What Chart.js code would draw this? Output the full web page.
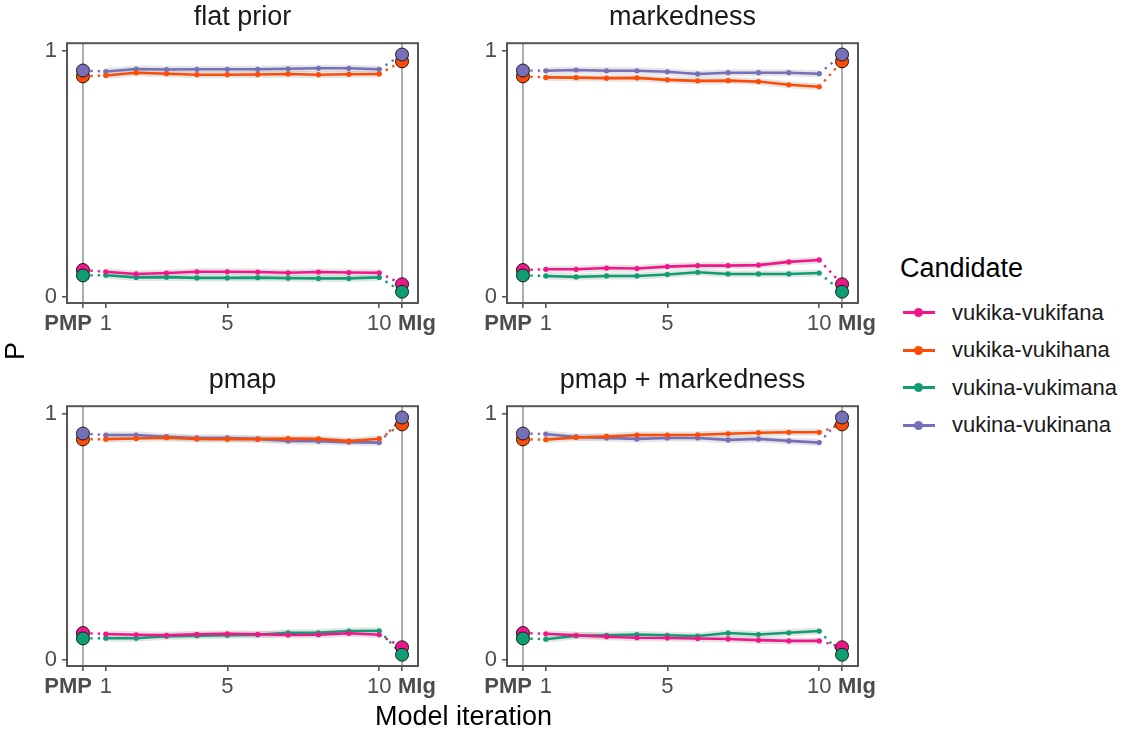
<!DOCTYPE html>
<html>
<head>
<meta charset="utf-8">
<script src="https://cdn.jsdelivr.net/npm/chart.js@4.4.1/dist/chart.umd.min.js"></script>
<style>
  body { margin: 0; background: #fff; font-family: "Liberation Sans", Arial, sans-serif; }
  #page { position: relative; width: 1121px; height: 736px; overflow: hidden; background: #fff; }
  #page canvas { position: absolute; }
  .title { position: absolute; width: 351px; text-align: center; font-size: 27px; line-height: 30px; color: #1a1a1a; }
  .axis-title { position: absolute; font-size: 27px; line-height: 30px; color: #000; }
  .leg-title { position: absolute; left: 900px; top: 253px; font-size: 27px; line-height: 30px; color: #000; }
  .leg-item { position: absolute; left: 903px; height: 30px; }
  .leg-line { position: absolute; left: 0; top: 13.5px; width: 32px; height: 3px; }
  .leg-dot { position: absolute; left: 11px; top: 10.5px; width: 9px; height: 9px; border-radius: 50%; }
  .leg-text { position: absolute; left: 49px; top: 0; font-size: 22px; line-height: 30px; white-space: nowrap; color: #1a1a1a; }
</style>
</head>
<body>
<div id="page"></div>
<script>
// DATA
const candidates = ['vukika-vukifana', 'vukika-vukihana', 'vukina-vukimana', 'vukina-vukinana'];
const iterations = [1, 2, 3, 4, 5, 6, 7, 8, 9, 10];
const xTickValues = [0.25, 1, 5, 10, 10.75];
const xTickLabels = ['PMP', '1', '5', '10', 'MIg'];
const yTickValues = [0, 1];

// PMP and MIg reference values, one per candidate
const pmpValues = [0.109, 0.896, 0.087, 0.920];
const migValues = [0.051, 0.957, 0.021, 0.985];

// model iterations 1..10, one row per candidate
const flatPrior = [
    [0.102, 0.093, 0.097, 0.102, 0.102, 0.101, 0.098, 0.101, 0.099, 0.098],
    [0.900, 0.911, 0.907, 0.903, 0.903, 0.904, 0.906, 0.903, 0.905, 0.906],
    [0.088, 0.079, 0.080, 0.077, 0.077, 0.078, 0.076, 0.075, 0.075, 0.079],
    [0.916, 0.926, 0.924, 0.925, 0.925, 0.925, 0.927, 0.929, 0.929, 0.925]
];
const markedness = [
    [0.112, 0.112, 0.117, 0.115, 0.123, 0.127, 0.127, 0.129, 0.142, 0.150],
    [0.892, 0.891, 0.889, 0.890, 0.882, 0.878, 0.879, 0.875, 0.862, 0.854],
    [0.085, 0.081, 0.085, 0.085, 0.091, 0.100, 0.093, 0.093, 0.093, 0.097],
    [0.919, 0.922, 0.919, 0.919, 0.915, 0.906, 0.911, 0.911, 0.911, 0.907]
];
const pmap = [
    [0.105, 0.102, 0.100, 0.104, 0.106, 0.104, 0.101, 0.102, 0.108, 0.102],
    [0.897, 0.900, 0.903, 0.898, 0.897, 0.897, 0.899, 0.898, 0.889, 0.899],
    [0.088, 0.088, 0.096, 0.098, 0.100, 0.102, 0.110, 0.110, 0.117, 0.118],
    [0.914, 0.914, 0.907, 0.902, 0.902, 0.898, 0.890, 0.889, 0.885, 0.883]
];
const pmapMarkedness = [
    [0.106, 0.100, 0.094, 0.090, 0.089, 0.087, 0.085, 0.080, 0.077, 0.077],
    [0.895, 0.904, 0.908, 0.914, 0.914, 0.915, 0.919, 0.923, 0.925, 0.925],
    [0.084, 0.098, 0.100, 0.103, 0.100, 0.097, 0.109, 0.103, 0.110, 0.117],
    [0.918, 0.906, 0.902, 0.898, 0.902, 0.902, 0.894, 0.898, 0.890, 0.883]
];
const panelTitles = ['flat prior', 'markedness', 'pmap', 'pmap + markedness'];
const panelData = [flatPrior, markedness, pmap, pmapMarkedness];

// STYLE / LAYOUT
const colors = ['#f2168b', '#fc4c06', '#0f9e74', '#7670b8'];
const frames = [
    { left: 67, top: 35 }, { left: 507, top: 35 },
    { left: 67, top: 398 }, { left: 507, top: 398 }
];
const FW = 351, FH = 268;
const PAD_L = 66, PAD_T = 10, PAD_R = 40, PAD_B = 42;
const FONT = '"Liberation Sans", Arial, sans-serif';

const page = document.getElementById('page');

// frame, reference lines, and x labels (PMP / MIg nudged outward like ggplot)
const panelDecor = {
    id: 'panelDecor',
    beforeDatasetsDraw(chart) {
        const { ctx, chartArea, scales } = chart;
        ctx.save();
        ctx.strokeStyle = '#9a9a9a';
        ctx.lineWidth = 1.6;
        [xTickValues[0], xTickValues[xTickValues.length - 1]].forEach(v => {
            const px = scales.x.getPixelForValue(v);
            ctx.beginPath();
            ctx.moveTo(px, chartArea.top);
            ctx.lineTo(px, chartArea.bottom);
            ctx.stroke();
        });
        ctx.restore();
    },
    afterDraw(chart) {
        const { ctx, chartArea, scales } = chart;
        ctx.save();
        ctx.strokeStyle = '#555555';
        ctx.lineWidth = 2;
        ctx.strokeRect(chartArea.left, chartArea.top, chartArea.right - chartArea.left, chartArea.bottom - chartArea.top);

        ctx.fillStyle = '#4d4d4d';
        ctx.textBaseline = 'middle';
        const y = chartArea.bottom + 21;
        xTickValues.forEach((v, i) => {
            const px = scales.x.getPixelForValue(v);
            const label = xTickLabels[i];
            if (i === 0) {
                ctx.font = 'bold 22px ' + FONT;
                ctx.textAlign = 'right';
                ctx.fillText(label, px + 9, y);
            } else if (i === xTickValues.length - 1) {
                ctx.font = 'bold 22px ' + FONT;
                ctx.textAlign = 'left';
                ctx.fillText(label, px - 4, y);
            } else {
                ctx.font = '22px ' + FONT;
                ctx.textAlign = 'center';
                ctx.fillText(label, px, y);
            }
        });
        ctx.restore();
    }
};

function buildDatasets(rows) {
    const halos = [], lines = [], links = [], ends = [];
    rows.forEach((vals, c) => {
        const pts = iterations.map((it, k) => ({ x: it, y: vals[k] }));
        halos.push({
            data: pts,
            borderColor: 'rgba(150,150,150,0.25)',
            borderWidth: 7,
            pointRadius: 0,
            order: 5
        });
        lines.push({
            data: pts,
            borderColor: colors[c],
            borderWidth: 2.6,
            pointRadius: 2.6,
            pointBackgroundColor: colors[c],
            pointBorderWidth: 0,
            order: 2
        });
        links.push({
            data: [
                { x: xTickValues[0], y: pmpValues[c] },
                { x: iterations[0], y: vals[0] },
                { x: 5.5, y: null },
                { x: iterations[iterations.length - 1], y: vals[vals.length - 1] },
                { x: xTickValues[xTickValues.length - 1], y: migValues[c] }
            ],
            borderColor: colors[c],
            borderWidth: 2.4,
            borderDash: [2.4, 5],
            pointRadius: 0,
            spanGaps: false,
            order: 3
        });
        ends.push({
            data: [
                { x: xTickValues[0], y: pmpValues[c] },
                { x: xTickValues[xTickValues.length - 1], y: migValues[c] }
            ],
            showLine: false,
            pointRadius: 6.5,
            pointBackgroundColor: colors[c],
            pointBorderColor: '#1a1a1a',
            pointBorderWidth: 1,
            order: 1
        });
    });
    return [...ends.reverse(), ...lines, ...links, ...halos];
}

panelData.forEach((rows, i) => {
    const f = frames[i];
    const canvas = document.createElement('canvas');
    canvas.width = PAD_L + FW + PAD_R;
    canvas.height = PAD_T + FH + PAD_B;
    canvas.style.left = (f.left - PAD_L) + 'px';
    canvas.style.top = (f.top - PAD_T) + 'px';
    page.appendChild(canvas);

    const title = document.createElement('div');
    title.className = 'title';
    title.textContent = panelTitles[i];
    title.style.left = f.left + 'px';
    title.style.top = (f.top - 34) + 'px';
    page.appendChild(title);

    new Chart(canvas, {
        type: 'line',
        data: { datasets: buildDatasets(rows) },
        options: {
            responsive: false,
            animation: false,
            devicePixelRatio: 1,
            layout: { padding: { top: PAD_T, right: PAD_R, left: 0, bottom: 0 } },
            plugins: { legend: { display: false }, tooltip: { enabled: false } },
            scales: {
                x: {
                    type: 'linear',
                    min: -0.275,
                    max: 11.275,
                    afterBuildTicks: s => { s.ticks = xTickValues.map(v => ({ value: v })); },
                    afterFit: s => { s.height = PAD_B; },
                    ticks: { display: false },
                    grid: { drawOnChartArea: false, drawTicks: true, tickLength: 5, color: '#555555', lineWidth: 1.6 },
                    border: { display: false }
                },
                y: {
                    min: -0.025,
                    max: 1.031,
                    afterBuildTicks: s => { s.ticks = yTickValues.map(v => ({ value: v })); },
                    afterFit: s => { s.width = PAD_L; },
                    ticks: {
                        padding: 5,
                        color: '#4d4d4d',
                        font: { family: FONT, size: 22 },
                        callback: v => String(v)
                    },
                    grid: { drawOnChartArea: false, drawTicks: true, tickLength: 5, color: '#555555', lineWidth: 1.6 },
                    border: { display: false }
                }
            }
        },
        plugins: [panelDecor]
    });
});

// AXIS TITLES
const xTitle = document.createElement('div');
xTitle.className = 'axis-title';
xTitle.textContent = 'Model iteration';
xTitle.style.left = '375px';
xTitle.style.top = '701px';
page.appendChild(xTitle);

const yTitle = document.createElement('div');
yTitle.className = 'axis-title';
yTitle.textContent = 'P';
yTitle.style.left = '6px';
yTitle.style.top = '336px';
yTitle.style.transform = 'rotate(-90deg)';
page.appendChild(yTitle);

// LEGEND
const legTitle = document.createElement('div');
legTitle.className = 'leg-title';
legTitle.textContent = 'Candidate';
page.appendChild(legTitle);

const legendY = [312.5, 350, 387.5, 425];
candidates.forEach((name, c) => {
    const item = document.createElement('div');
    item.className = 'leg-item';
    item.style.top = (legendY[c] - 15) + 'px';
    item.innerHTML =
        `<div class="leg-line" style="background:${colors[c]}"></div>` +
        `<div class="leg-dot" style="background:${colors[c]}"></div>` +
        `<div class="leg-text">${name}</div>`;
    page.appendChild(item);
});
</script>
</body>
</html>
